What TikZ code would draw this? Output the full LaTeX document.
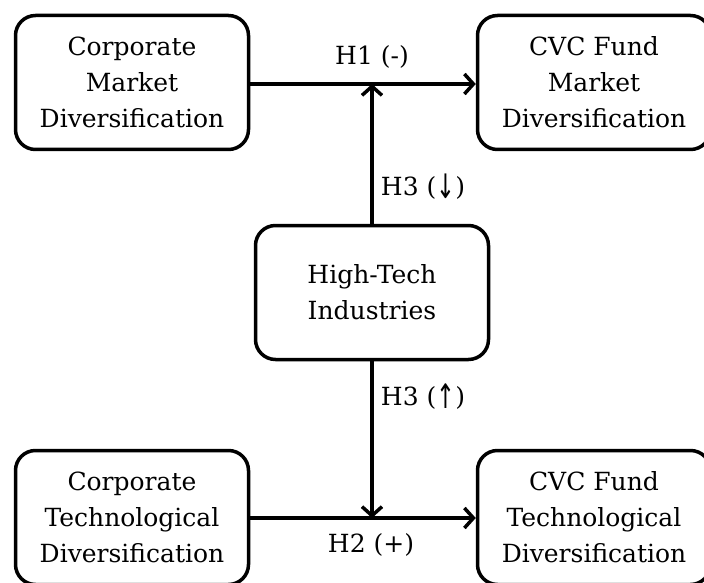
\documentclass[tikz,border=0pt]{standalone}
\usepackage{fontspec}
\usepackage{graphicx}
\setmainfont{DejaVu Serif}
\newfontfamily\arrowfont{DejaVu Sans}
\newcommand{\tallarrow}[1]{\raisebox{-0.12em}{\scalebox{0.9}[1.35]{\arrowfont #1}}}
\usetikzlibrary{arrows.meta}
\begin{document}
\begin{tikzpicture}[x=1pt,y=-1pt,
  boxnode/.style={draw, line width=3.5pt, rounded corners=20pt,
    minimum width=233pt, minimum height=134pt, inner sep=0pt,
    align=center, font=\fontsize{25}{36}\selectfont},
  lbl/.style={font=\fontsize{25}{36}\selectfont, inner sep=0pt},
  arr/.style={line width=3.5pt, -{Straight Barb[length=9pt,width=20pt,line width=3.5pt]}}]
\useasboundingbox (0,0) rectangle (704,583);
\node[boxnode] (cm) at (132,82.5) {Corporate\\Market\\Diversification};
\node[boxnode] (fm) at (594,82.5) {CVC Fund\\Market\\Diversification};
\node[boxnode] (ht) at (372,292.5) {High-Tech\\Industries};
\node[boxnode] (ct) at (132,517.5) {Corporate\\Technological\\Diversification};
\node[boxnode] (ft) at (594,517.5) {CVC Fund\\Technological\\Diversification};
\coordinate (j1) at (ht.north |- 0,84);
\coordinate (j2) at (ht.south |- 0,518);
\draw[arr] (cm.east |- j1) -- (fm.west |- j1);
\draw[arr] (ct.east |- j2) -- (ft.west |- j2);
\draw[arr] (ht.north) -- (j1);
\draw[arr] (ht.south) -- (j2);
\node[lbl] (h1) at (372,57) {H1 (-)};
\node[lbl] (h3a) at (423,187) {H3 (\tallarrow{↓})};
\node[lbl] (h3b) at (423,397) {H3 (\tallarrow{↑})};
\node[lbl] (h2) at (371,545) {H2 (+)};
\end{tikzpicture}
\end{document}
